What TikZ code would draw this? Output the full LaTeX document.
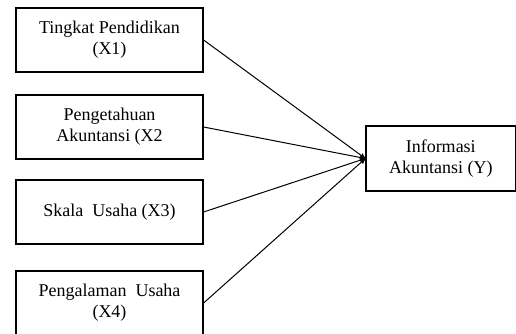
\documentclass[tikz,border=0pt]{standalone}
\usepackage{fontspec}
\setmainfont{Liberation Serif}
\usetikzlibrary{arrows,positioning}

\begin{document}
\begin{tikzpicture}[->,>=stealth',x=1pt,y=1pt,line width=1pt]
\tikzstyle{every node}=[font=\fontsize{18}{21}\selectfont]
\tikzstyle{var}=[draw,line width=1.2pt,rectangle,minimum width=187pt,minimum height=64pt,align=center,inner sep=0pt]

\useasboundingbox (0,0) rectangle (516,333);

\node[var] (x1) at (109.5,293) {Tingkat Pendidikan\\(X1)};
\node[var] (x2) at (109.5,206) {Pengetahuan\\Akuntansi (X2};
\node[var] (x3) at (109.5,121) {Skala\ \ Usaha (X3)};
\node[var] (x4) at (109.5,30) {Pengalaman\ \ Usaha\\(X4)};
\node[var,minimum width=149.5pt,minimum height=65pt] (y) at (440.75,174.5) {Informasi\\Akuntansi (Y)};

\path
(x1.east) edge (y.west)
(x2.east) edge (y.west)
(x3.east) edge (y.west)
(x4.east) edge (y.west)
;
\end{tikzpicture}
\end{document}
